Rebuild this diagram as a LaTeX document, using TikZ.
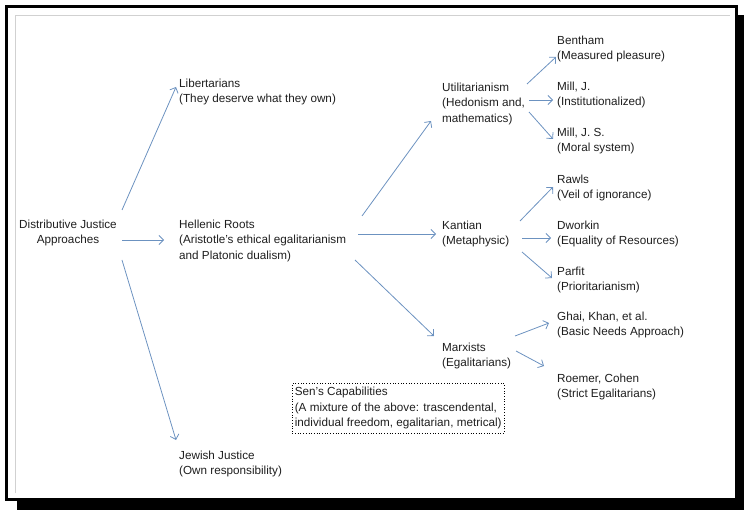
\documentclass[tikz,border=0pt]{standalone}
\usepackage{fontspec}
\setmainfont{Liberation Sans}
\usetikzlibrary{arrows.meta}
\definecolor{arrowblue}{RGB}{108,146,192}
\definecolor{txt}{RGB}{30,30,30}
\tikzset{
  lbl/.style={anchor=north west, inner sep=0pt, align=left, text=txt,
    font=\fontsize{11.7}{15.5}\selectfont},
  arr/.style={draw=arrowblue, line width=0.8pt,
    -{Straight Barb[length=4.5pt,width=9pt]}},
  senbox/.style={lbl, draw=black, dotted, line width=0.7pt, inner xsep=2.5pt, inner ysep=4pt}
}
\begin{document}
\begin{tikzpicture}[x=1pt,y=-1pt]
\useasboundingbox (0,0) rectangle (744,510);
% frame
\fill[black] (737,15) rectangle (744,510);
\fill[black] (17,500) rectangle (744,510);
\draw[black, line width=2.6pt] (6.3,6.3) rectangle (736.5,499.5);
\draw[black!18, line width=1pt] (15,493) -- (15,16) -- (730,16);

% nodes
\node[lbl, anchor=north, align=center] (dja) at (68,219.5) {Distributive Justice\\Approaches};
\node[lbl] (lib) at (179,78.5) {Libertarians\\(They deserve what they own)};
\node[lbl] (hel) at (179,219.5) {Hellenic Roots\\(Aristotle's ethical egalitarianism\\and Platonic dualism)};
\node[lbl] (jew) at (179,450.5) {Jewish Justice\\(Own responsibility)};
\node[lbl] (uti) at (442,82.5) {Utilitarianism\\(Hedonism and,\\mathematics)};
\node[lbl] (kan) at (442,220.5) {Kantian\\(Metaphysic)};
\node[lbl] (mar) at (442,342.5) {Marxists\\(Egalitarians)};
\node[lbl] (ben) at (557,35.5) {Bentham\\(Measured pleasure)};
\node[lbl] (mj) at (557,81.5) {Mill, J.\\(Institutionalized)};
\node[lbl] (mjs) at (557,127.5) {Mill, J. S.\\(Moral system)};
\node[lbl] (raw) at (557,174.5) {Rawls\\(Veil of ignorance)};
\node[lbl] (dwo) at (557,220.5) {Dworkin\\(Equality of Resources)};
\node[lbl] (par) at (557,266.5) {Parfit\\(Prioritarianism)};
\node[lbl] (gha) at (557,311.5) {Ghai, Khan, et al.\\(Basic Needs Approach)};
\node[lbl] (roe) at (557,373.5) {Roemer, Cohen\\(Strict Egalitarians)};
\node[senbox] (sen) at (292,383) {Sen's Capabilities\\(A mixture of the above: trascendental,\\individual freedom, egalitarian, metrical)};

% connectors
\draw[arr] ([shift={(54,-9.5)}]dja.north) -- ([shift={(-3,8.5)}]lib.north west);
\draw[arr] ([shift={(54,20.5)}]dja.north) -- ([shift={(-15,20.5)}]hel.north west);
\draw[arr] ([shift={(54,40.5)}]dja.north) -- ([shift={(-3,-10.5)}]jew.north west);
\draw[arr] ([shift={(183,-3.5)}]hel.north west) -- ([shift={(-11,38.5)}]uti.north west);
\draw[arr] ([shift={(179,14.5)}]hel.north west) -- ([shift={(-6,13.5)}]kan.north west);
\draw[arr] ([shift={(176,40.5)}]hel.north west) -- ([shift={(-8,-6.5)}]mar.north west);
\draw[arr] ([shift={(85,1.5)}]uti.north west) -- ([shift={(-1,21.5)}]ben.north west);
\draw[arr] ([shift={(87,17.5)}]uti.north west) -- ([shift={(-4,18.5)}]mj.north west);
\draw[arr] ([shift={(87,29.5)}]uti.north west) -- ([shift={(-4,11.5)}]mjs.north west);
\draw[arr] ([shift={(78,0.5)}]kan.north west) -- ([shift={(-4,12.5)}]raw.north west);
\draw[arr] ([shift={(80,17.5)}]kan.north west) -- ([shift={(-6,17.5)}]dwo.north west);
\draw[arr] ([shift={(80,31.5)}]kan.north west) -- ([shift={(-5,11.5)}]par.north west);
\draw[arr] ([shift={(73,-6.5)}]mar.north west) -- ([shift={(-8,11.5)}]gha.north west);
\draw[arr] ([shift={(74,8.5)}]mar.north west) -- ([shift={(-13,-7.5)}]roe.north west);
\end{tikzpicture}
\end{document}
